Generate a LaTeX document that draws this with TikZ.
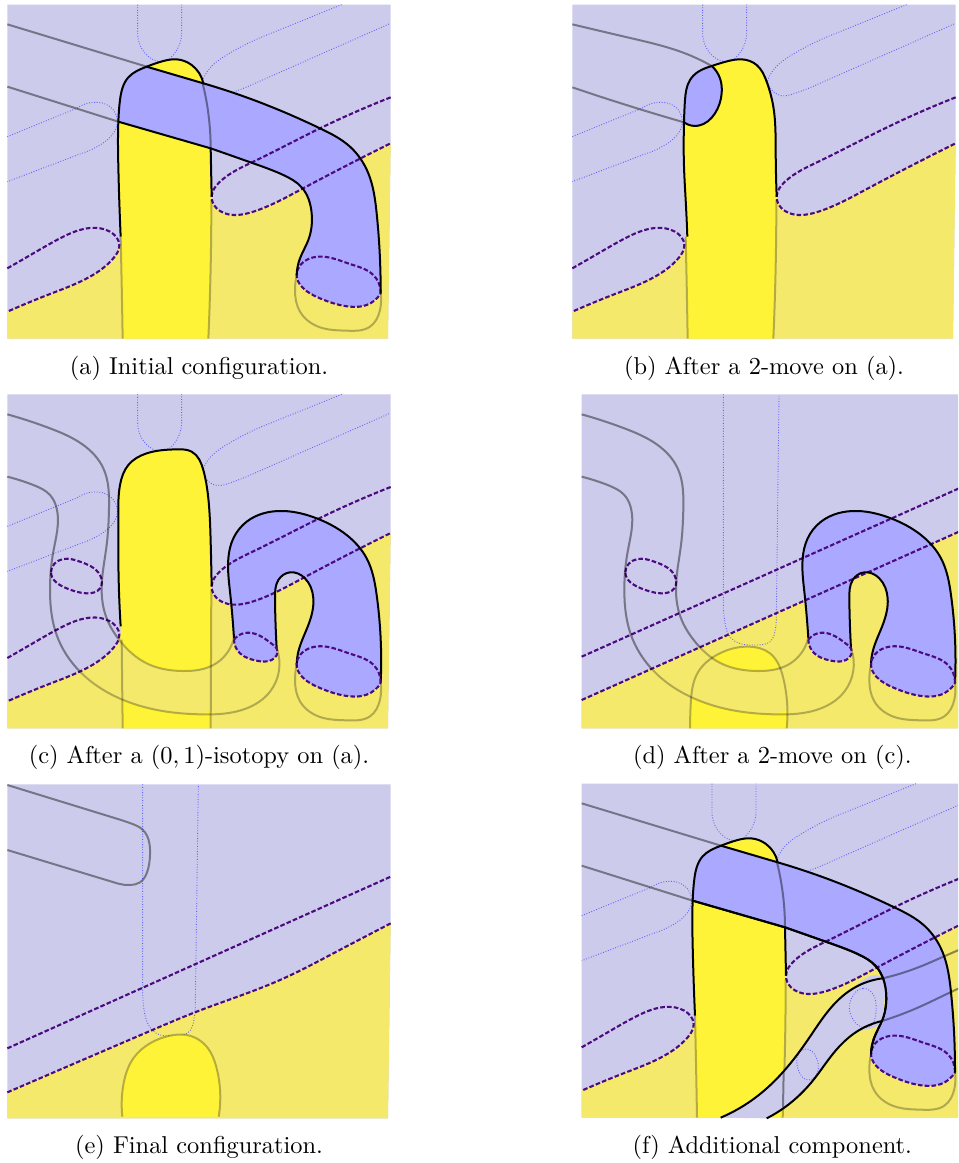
\documentclass[tikz,border=0pt]{standalone}
\usetikzlibrary{hobby}
\definecolor{lavender}{HTML}{CDCBEB}
\definecolor{paleyellow}{HTML}{F4E96B}
\definecolor{brightyellow}{HTML}{FFF338}
\definecolor{bandblue}{HTML}{AAA8FF}
\definecolor{linkpurple}{HTML}{4B0A7F}
\tikzset{
  edge/.style={draw=black,line width=2pt,line join=round},
  greyline/.style={draw=black,draw opacity=.42,line width=2pt},
  softline/.style={draw=black,draw opacity=.27,line width=2pt},
  softextra/.style={draw=black,draw opacity=.2,line width=2pt},
  linkdash/.style={draw=linkpurple,line width=2.1pt,dash pattern=on 4.6pt off 2.2pt},
  bluedot/.style={draw=blue!75,draw opacity=.75,line width=.9pt,dash pattern=on .9pt off 1.7pt},
  caption/.style={scale=2.44}
}
% one panel is drawn in local units, all of them share the frame below
\newcommand\sheet{\fill[lavender] (22,14) -- (1172,14) -- (1172,430) -- (1164,1016) -- (22,1016) -- cycle;}
\newcommand\paleside{\fill[paleyellow] (22,935) .. (150,882) .. (270,830) .. (340,775) .. (358,735) -- (635,590) .. (650,625) .. (700,645) .. (760,635) .. (900,570) .. (1172,430) -- (1164,1016) -- (22,1016) -- cycle;}
\newcommand\leftlobe{\draw[linkdash] (22,805) .. (100,760) .. (180,715) .. (270,684) .. (330,695) .. (358,735) .. (340,775) .. (270,830) .. (150,882) .. (22,935);}
\newcommand\rightlobe{\draw[linkdash] (1172,292) .. (960,385) .. (760,485) .. (660,545) .. (635,590) .. (650,625) .. (700,645) .. (760,635) .. (900,570) .. (1172,430);}
\newcommand\fingerdots{
  \draw[bluedot] (413,14) -- (413,100) .. (420,135) .. (440,165) .. (470,183) .. (495,183) .. (520,165) .. (538,135) .. (545,100) -- (545,14);
  \draw[bluedot] (1025,14) -- (800,105) .. (680,165) .. (625,210) .. (607,245);
  \draw[bluedot] (1167,72) -- (740,261) .. (690,280) .. (650,287) .. (620,270) .. (607,245);
}
\newcommand\leftdots{\draw[bluedot] (22,410) -- (230,325) .. (280,307) .. (330,320) .. (352,365) .. (340,400) .. (300,435) .. (240,462) -- (22,545);}
\newcommand\footlines{
  \draw[softline] (362,710) .. (365,850) .. (368,1016);
  \draw[softline] (634,600) .. (632,800) .. (625,1016);
}
\newcommand\bigfoot{\draw[linkdash] (1142,880) .. (1120,825) .. (1050,792) .. (970,770) .. (930,775) .. (890,825) .. (905,860) .. (960,895) .. (1050,920) .. (1100,915) .. (1142,880);}
\newcommand\bigring{\draw[softline] (890,825) .. (885,870) .. (900,935) .. (970,985) .. (1040,992) .. (1110,980) .. (1140,930) .. (1142,880);}
\newcommand\bandinner{\draw[edge] (355,365) -- (632,445) .. (760,490) .. (850,525) .. (905,562) .. (935,640) .. (925,720) .. (900,775) .. (890,825);}
% flat band of (a) and (f)
\newcommand\flatband{
  \fill[brightyellow] (355,365) .. (355,500) .. (362,710) .. (368,1016) -- (625,1016) -- (634,600) -- (632,445) -- cycle;
  \fill[brightyellow] (440,200) .. (490,183) .. (530,178) .. (575,195) .. (610,250) -- cycle;
  \fill[bandblue] (355,365) .. (360,300) .. (385,232) .. (440,200) -- (610,250) .. (800,315) .. (960,385) .. (1050,440) .. (1105,520) .. (1130,640) .. (1142,880) -- (1142,880) .. (1100,915) .. (1050,920) .. (960,895) .. (905,860) .. (890,825) -- (890,825) .. (900,775) .. (925,720) .. (935,640) .. (905,562) .. (850,525) .. (760,490) .. (632,445) -- cycle;
  \rightlobe
  \bigfoot
  \leftlobe
  \footlines
  \bigring
  \draw[greyline] (22,73) -- (440,200);
  \draw[greyline] (22,260) -- (355,365);
  \draw[greyline] (608,250) .. (625,340) .. (632,445);
  \draw[edge] (362,710) .. (355,500) .. (355,365) .. (360,300) .. (385,232) .. (440,200) .. (490,183) .. (530,178) .. (575,195) .. (610,250);
  \draw[edge] (440,200) -- (610,250) .. (800,315) .. (960,385) .. (1050,440) .. (1105,520) .. (1130,640) .. (1142,880);
  \bandinner
  \draw[edge] (632,445) -- (635,590);
}
% arch band of (c) and (d)
\newcommand\archband{
  \fill[bandblue] (702,746) .. (690,606) .. (685,506) .. (700,446) .. (740,396) .. (790,371) .. (850,364) .. (950,386) .. (1040,436) .. (1100,506) .. (1130,616) .. (1142,880) -- (1142,880) .. (1100,915) .. (1050,920) .. (960,895) .. (905,860) .. (890,825) -- (890,825) .. (895,786) .. (925,706) .. (940,626) .. (915,566) .. (870,548) .. (835,571) .. (825,626) .. (830,776) -- (830,776) .. (815,811) .. (770,813) .. (720,791) .. (702,746) -- cycle;
}
\newcommand\archedges{
  \draw[edge] (702,746) .. (690,606) .. (685,506) .. (700,446) .. (740,396) .. (790,371) .. (850,364) .. (950,386) .. (1040,436) .. (1100,506) .. (1130,616) .. (1142,880);
  \draw[edge] (890,825) .. (895,786) .. (925,706) .. (940,626) .. (915,566) .. (870,548) .. (835,571) .. (825,626) .. (830,776);
  \draw[linkdash] (702,750) .. (730,731) .. (770,734) .. (820,766) .. (830,776) .. (815,811) .. (770,813) .. (720,791) .. (702,750);
  \bigfoot
  \bigring
}
\newcommand\smallloop{\draw[linkdash,closed=true] (153,548) .. (190,508) .. (240,516) .. (300,556) .. (300,596) .. (260,611) .. (200,596);}
\newcommand\arcpair[1]{
  \draw[#1] (22,261) .. (100,286) .. (150,316) .. (170,356) .. (160,486) .. (150,606) .. (170,736) .. (240,846) .. (370,931) .. (500,966) .. (600,974) .. (740,956) .. (810,906) .. (830,776);
  \draw[#1] (22,74) .. (150,116) .. (250,166) .. (310,236) .. (327,356) .. (320,466) .. (305,606) .. (320,686) .. (358,751) .. (440,821) .. (550,844) .. (640,826) .. (690,776) .. (702,745);
}
% #1 is the boundary of the sheet, the arcs are darker above it
\newcommand\longarcs[1]{
  \arcpair{softline}
  \begin{scope}
  \clip (0,0) -- (1200,0) -- (1200,405) -- #1 -- (0,950) -- cycle;
  \arcpair{softextra}
  \end{scope}
}
\newcommand\palestrip[1]{\fill[paleyellow] #1 .. (440,821) .. (550,844) .. (640,826) -- (640,960) -- (600,974) .. (500,966) .. (370,931) .. (340,916) -- cycle;}
\begin{document}
\begin{tikzpicture}[x=.33333pt,y=-.33333pt,use Hobby shortcut]
\useasboundingbox (0,0) rectangle (2874,3489);
\clip (0,0) rectangle (2874,3489);
% (a)
\begin{scope}
\sheet
\paleside
\fingerdots
\leftdots
\flatband
\end{scope}
% (b)
\begin{scope}[shift={(1695,0)}]
\sheet
\paleside
\fingerdots
\leftdots
\fill[brightyellow] (368,1016) .. (362,710) .. (357,500) .. (357,367) .. (360,300) .. (375,240) .. (400,215) .. (440,198) .. (490,183) .. (530,178) .. (575,195) .. (605,245) .. (625,320) .. (632,450) .. (635,590) -- (625,1016) -- cycle;
\fill[bandblue] (357,367) .. (360,300) .. (375,240) .. (400,215) .. (440,198) .. (465,235) .. (470,280) .. (450,340) .. (400,377) .. (357,367) -- cycle;
\rightlobe
\leftlobe
\footlines
\draw[greyline] (22,73) .. (200,115) .. (360,160) .. (440,198);
\draw[greyline] (22,262) .. (200,320) .. (357,367);
\draw[edge] (367,710) .. (362,600) .. (357,500) .. (357,367) .. (360,300) .. (375,240) .. (400,215) .. (440,198) .. (490,183) .. (530,178) .. (575,195) .. (605,245) .. (625,320) .. (632,450) .. (635,590);
\draw[edge] (440,198) .. (465,235) .. (470,280) .. (450,340) .. (400,377) .. (357,367);
\end{scope}
% (c)
\begin{scope}[shift={(0,1169)}]
\sheet
\paleside
\fingerdots
\leftdots
\fill[brightyellow] (362,710) .. (355,500) .. (355,386) .. (360,286) .. (385,226) .. (440,191) .. (530,179) .. (575,186) .. (610,241) .. (625,326) .. (632,456) .. (635,590) -- (632,1016) -- (368,1016) -- cycle;
\palestrip{(358,751)}
\archband
\rightlobe
\leftlobe
\smallloop
\draw[softline] (365,750) -- (368,1016);
\draw[softline] (634,600) -- (632,1016);
\longarcs{(358,745) -- (270,830)}
\archedges
\draw[edge] (362,710) .. (355,500) .. (355,386) .. (360,286) .. (385,226) .. (440,191) .. (530,179) .. (575,186) .. (610,241) .. (625,326) .. (632,456) .. (635,590);
\end{scope}
% (d)
\begin{scope}[shift={(1723,1169)}]
\sheet
\fill[paleyellow] (22,931) -- (1172,418) -- (1164,1016) -- (22,1016) -- cycle;
\draw[bluedot] (447,14) -- (447,650) .. (452,700) .. (470,745) .. (507,764) .. (547,766) .. (587,756) .. (602,725) .. (606,680) -- (614,14);
\fill[brightyellow] (347,1016) .. (349,946) .. (372,846) .. (427,796) .. (527,771) .. (587,791) .. (627,866) .. (637,1016) -- cycle;
\palestrip{(400,795)}
\archband
\draw[linkdash] (22,801) -- (1172,288);
\draw[linkdash] (22,931) -- (1172,418);
\smallloop
\longarcs{(22,931)}
\draw[softline] (347,1016) .. (349,946) .. (372,846) .. (427,796) .. (527,771) .. (587,791) .. (627,866) .. (637,1016);
\archedges
\end{scope}
% (e)
\begin{scope}[shift={(0,2339)}]
\sheet
\fill[paleyellow] (22,938) .. (450,754) .. (590,696) .. (840,601) .. (1000,521) .. (1172,431) -- (1164,1016) -- (22,1016) -- cycle;
\draw[bluedot] (428,14) -- (428,640) .. (432,690) .. (445,735) .. (480,766) .. (520,768) .. (565,758) .. (582,720) .. (586,670) -- (595,14);
\fill[brightyellow] (367,1011) .. (370,916) .. (400,836) .. (450,791) .. (510,768) .. (560,766) .. (620,801) .. (650,866) .. (656,1011) -- cycle;
\draw[softline] (367,1011) .. (370,916) .. (400,836) .. (450,791) .. (510,768) .. (560,766) .. (620,801) .. (650,866) .. (656,1011);
\draw[linkdash] (22,806) -- (1172,291);
\draw[linkdash] (22,938) .. (450,754) .. (590,696) .. (840,601) .. (1000,521) .. (1172,431);
\draw[greyline] (22,16) -- (360,120) .. (395,132) .. (428,150) .. (448,190) .. (450,226) .. (440,281) .. (420,308) .. (390,316) .. (355,312) -- (22,211);
\end{scope}
% (f)
\begin{scope}[shift={(1723,2337)}]
\sheet
\paleside
\fingerdots
\leftdots
\flatband
\fill[lavender] (439,1016) .. (547,953) .. (627,878) .. (707,773) .. (777,678) .. (837,628) .. (925,598) .. (933,640) .. (928,695) .. (923,726) .. (847,758) .. (777,823) .. (717,903) .. (647,973) .. (577,1018) -- cycle;
\draw[bluedot,closed=true] (867,628) .. (902,658) .. (905,698) .. (882,745) .. (837,723) .. (825,688) .. (837,648);
\draw[bluedot,closed=true] (692,810) .. (727,838) .. (732,868) .. (702,903) .. (672,873) .. (667,848);
\draw[greyline] (628,878) -- (626,985);
\draw[greyline] (925,598) .. (1037,563) .. (1107,533) .. (1172,505);
\draw[greyline] (923,726) .. (1037,683) .. (1132,638) .. (1172,620);
\bandinner
\draw[edge] (439,1016) .. (547,953) .. (627,878) .. (707,773) .. (777,678) .. (837,628) .. (925,598);
\draw[edge] (577,1018) .. (647,973) .. (717,903) .. (777,823) .. (847,758) .. (923,726);
\end{scope}
\node[caption] (capa) at (597,1105) {(a) Initial configuration.};
\node[caption] (capb) at (2292,1105) {(b) After a 2-move on (a).};
\node[caption] (capc) at (597,2273) {(c) After a $(0,1)$-isotopy on (a).};
\node[caption] (capd) at (2317,2273) {(d) After a 2-move on (c).};
\node[caption] (cape) at (597,3443) {(e) Final configuration.};
\node[caption] (capf) at (2317,3443) {(f) Additional component.};
\end{tikzpicture}
\end{document}
